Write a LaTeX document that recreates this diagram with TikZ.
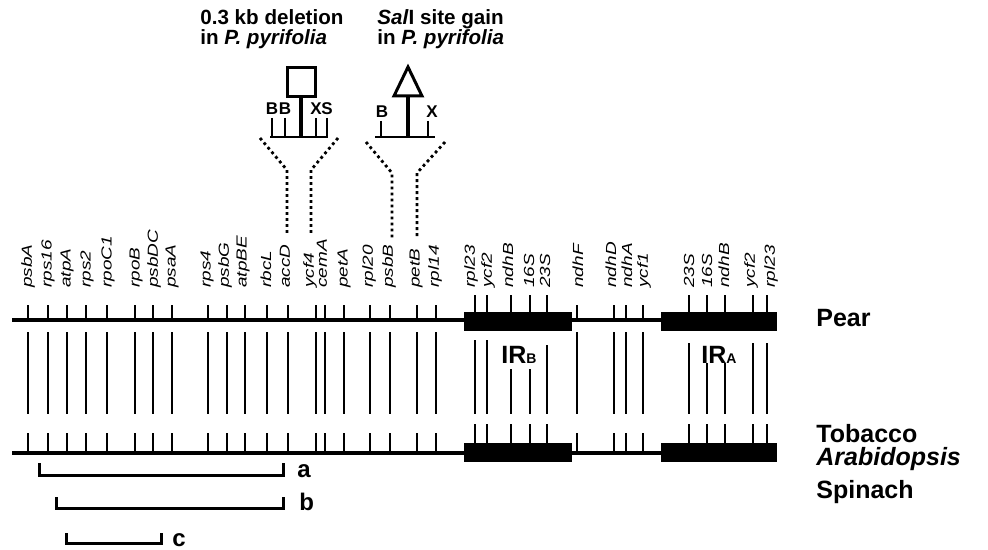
\documentclass[tikz,border=0pt]{standalone}
\usepackage{fontspec}
\setmainfont{Liberation Sans}
\usepackage{graphicx}
\usepackage{tikz}

\begin{document}
\begin{tikzpicture}[x=0.5pt, y=-0.5pt,
  backbone/.style={line width=1.6pt},
  gtick/.style={line width=1.4pt},
  link/.style={line width=1pt},
  bracket/.style={line width=1.5pt},
  dots/.style={line width=1.4pt, dash pattern=on 1.4pt off 1.6pt},
  sitetick/.style={line width=0.9pt},
  gene/.style={rotate=90, anchor=west, inner sep=0pt, font=\fontsize{7.3}{8}\selectfont\itshape},
  species/.style={anchor=base west, inner sep=0pt, font=\fontsize{12.5}{14}\selectfont\bfseries},
  irlabel/.style={anchor=base, inner sep=0pt, font=\fontsize{12.5}{14}\selectfont\bfseries},
  fraglabel/.style={anchor=base west, inner sep=0pt, font=\fontsize{12}{14}\selectfont\bfseries},
  note/.style={anchor=base west, inner sep=0pt, font=\fontsize{10.3}{12}\selectfont\bfseries},
  site/.style={inner sep=0pt, font=\fontsize{8.5}{10}\selectfont\bfseries}]
  \useasboundingbox (0,0) rectangle (988,550);

  % Linhas do genoma: pera e tabaco
  \draw[backbone] (12,320) -- (777,320);
  \draw[backbone] (12,453) -- (777,453);

  % Repeticoes invertidas (caixas pretas)
  \foreach \y in {312,443}{
    \fill (464,\y) rectangle (572,\y+19);
    \fill (661,\y) rectangle (777,\y+19);
  }

  % Genes das regioes de copia unica
  \foreach \x in {28,48,67,86,107,135,153,172,208,227,245,267,288,316,325,344,370,390,417,436,577,614,626,643}{
    \draw[gtick] (\x,305) -- (\x,320);
    \draw[gtick] (\x,433) -- (\x,453);
    \draw[link] (\x,332) -- (\x,414);
  }

  % Genes dentro das IR
  \foreach \x/\t in {475/340,487/340,511/369,530/369,547/345,689/343,707/363,725/363,753/343,767/343}{
    \draw[gtick] (\x,295) -- (\x,312);
    \draw[gtick] (\x,424) -- (\x,443);
    \draw[link] (\x,\t) -- (\x,414);
  }

  % Nomes dos genes
  \foreach \x/\g [count=\i] in {28/psbA,48/rps16,67/atpA,87/rps2,108/rpoC1,136/rpoB,154/psbDC,172/psaA,207/rps4,225/psbG,243/atpBE,266/rbcL,285/accD,310/ycf4,322/cemA,344/petA,369/rpl20,389/psbB,416/petB,435/rpl14,471/rpl23,488/ycf2,508/ndhB,529/16S,545/23S,578/ndhF,611/ndhD,627/ndhA,644/ycf1,689/23S,707/16S,724/ndhB,751/ycf2,771/rpl23}{
    \node[gene] (g\i) at (\x,288) {\scalebox{1.3}[1]{\g}};
  }

  % Rotulos das IR
  \node[irlabel] (irb) at (519,363) {IR{\fontsize{7}{7}\selectfont B}};
  \node[irlabel] (ira) at (719,363) {IR{\fontsize{7}{7}\selectfont A}};

  % Especies
  \node[species] (pear) at (816,326) {Pear};
  \node[species] (tobacco) at (816,442) {Tobacco};
  \node[species] (arab) at (816,465) {\itshape Arabidopsis};
  \node[species] (spinach) at (816,498) {Spinach};

  % Fragmentos a, b, c
  \draw[bracket] (39,463) -- (39,475) -- (283,475) -- (283,463);
  \node[fraglabel] (fa) at (297,477) {a};
  \draw[bracket] (56,497) -- (56,508) -- (283,508) -- (283,497);
  \node[fraglabel] (fb) at (299,510) {b};
  \draw[bracket] (66,533) -- (66,543) -- (161,543) -- (161,533);
  \node[fraglabel] (fc) at (172,546) {c};

  % Notas no topo
  \node[note] (del1) at (200,25) {0.3 kb deletion};
  \node[note] (del2) at (200,45) {in \textit{P. pyrifolia}};
  \node[note] (sal1) at (377,25) {\textit{Sal}I site gain};
  \node[note] (sal2) at (377,45) {in \textit{P. pyrifolia}};

  % Detalhe 1: delecao (quadrado)
  \draw[line width=1.5pt] (287,68) rectangle (315,97);
  \draw[line width=2pt] (301,97) -- (301,137);
  \draw[line width=1pt] (270,137) -- (328,137);
  \foreach \x/\s in {272/B,285/B,316/X,327/S}{
    \draw[sitetick] (\x,118) -- (\x,137);
    \node[site] (s\x) at (\x,109) {\s};
  }

  % Detalhe 2: ganho de sitio (triangulo)
  \draw[line width=1.5pt, line join=miter] (394,96) -- (408,67) -- (422,96) -- cycle;
  \draw[line width=2pt] (408,96) -- (408,137);
  \draw[line width=1pt] (375,137) -- (435,137);
  \draw[sitetick] (381,121) -- (381,137);
  \draw[sitetick] (428,121) -- (428,137);
  \node[site] (sb) at (382,112) {B};
  \node[site] (sx) at (432,112) {X};

  % Linhas pontilhadas ate o mapa
  \draw[dots] (260,138) -- (287,170) -- (287,233);
  \draw[dots] (338,138) -- (311,170) -- (311,233);
  \draw[dots] (366,142) -- (392,173) -- (392,238);
  \draw[dots] (445,142) -- (417,173) -- (417,238);
\end{tikzpicture}
\end{document}
